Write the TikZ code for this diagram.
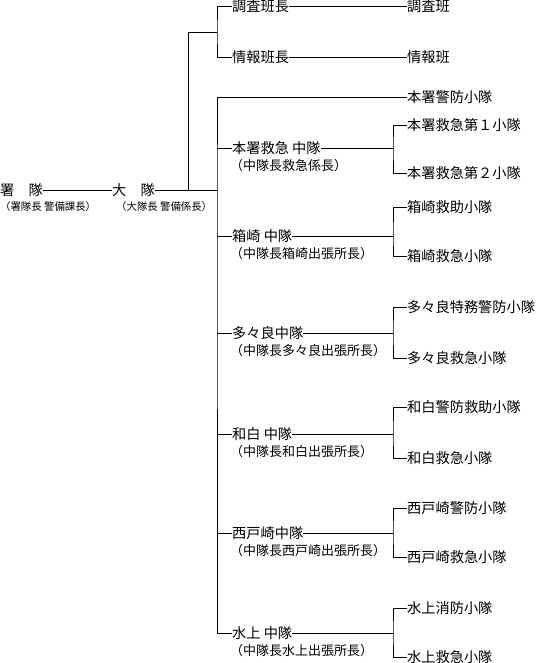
\documentclass[tikz,border=0pt]{standalone}
\usepackage{fontspec}
\setmainfont{Noto Sans CJK JP}

\tikzset{
  org/.style={line width=0.9pt},
  unit/.style={anchor=west, inner sep=0pt, font=\fontsize{14.2}{15}\selectfont},
  subunit/.style={anchor=west, inner sep=0pt, font=\fontsize{13}{14}\selectfont},
  topsub/.style={anchor=west, inner sep=0pt, font=\fontsize{10.4}{11}\selectfont}
}

\begin{document}
\begin{tikzpicture}[x=1pt, y=-1pt]
\useasboundingbox (0,0) rectangle (538,663);
% ---- head: 署隊 and 大隊 ----
\node[unit] (sho) at (0,190) {署　隊};
\node[topsub] (shosub) at (0,207) {（署隊長 警備課長）};
\node[unit] (daitai) at (112,190) {大　隊};
\node[topsub] (daitaisub) at (116,207) {（大隊長 警備係長）};
\coordinate (upfork) at (188,190);
\coordinate (trunk) at (217,190);
\coordinate (hanfork) at (217,32);
\draw[org] (sho.east) -- (daitai.west);
\draw[org] (daitai.east) -- (trunk);
\draw[org] (upfork) |- (hanfork);
% ---- 調査班 / 情報班 ----
\node[unit] (chosacho) at (232,6) {調査班長};
\node[unit] (chosa) at (407,6) {調査班};
\node[unit] (johocho) at (232,57) {情報班長};
\node[unit] (joho) at (407,57) {情報班};
\draw[org] (chosacho.west) -| (hanfork) |- (johocho.west);
\draw[org] (chosacho.east) -- (chosa.west);
\draw[org] (johocho.east) -- (joho.west);
% ---- 中隊 and 小隊 ----
\node[unit] (keibo) at (407,97) {本署警防小隊};
\foreach \i/\y/\nm/\sb/\ya/\na/\yb/\nb in {
    1/148/本署救急 中隊/（中隊長救急係長）/125/本署救急第１小隊/173/本署救急第２小隊,
    2/236/箱崎 中隊/（中隊長箱崎出張所長）/207/箱崎救助小隊/256/箱崎救急小隊,
    3/333/多々良中隊/（中隊長多々良出張所長）/307/多々良特務警防小隊/358/多々良救急小隊,
    4/434/和白 中隊/（中隊長和白出張所長）/407/和白警防救助小隊/458/和白救急小隊,
    5/533/西戸崎中隊/（中隊長西戸崎出張所長）/508/西戸崎警防小隊/557/西戸崎救急小隊,
    6/633/水上 中隊/（中隊長水上出張所長）/608/水上消防小隊/657/水上救急小隊} {
  \node[unit] (c\i) at (232,\y) {\nm};
  \node[subunit] (c\i s) at (230,\y+18) {\sb};
  \node[unit] (k\i a) at (407,\ya) {\na};
  \node[unit] (k\i b) at (407,\yb) {\nb};
  \coordinate (f\i) at (393,\y);
  \draw[org] (trunk |- c\i.west) -- (c\i.west);
  \draw[org] (c\i.east) -- (f\i);
  \draw[org] (k\i a.west) -| (f\i) |- (k\i b.west);
}
\draw[org] (keibo.west) -| (trunk) |- (c6.west);
\end{tikzpicture}
\end{document}
